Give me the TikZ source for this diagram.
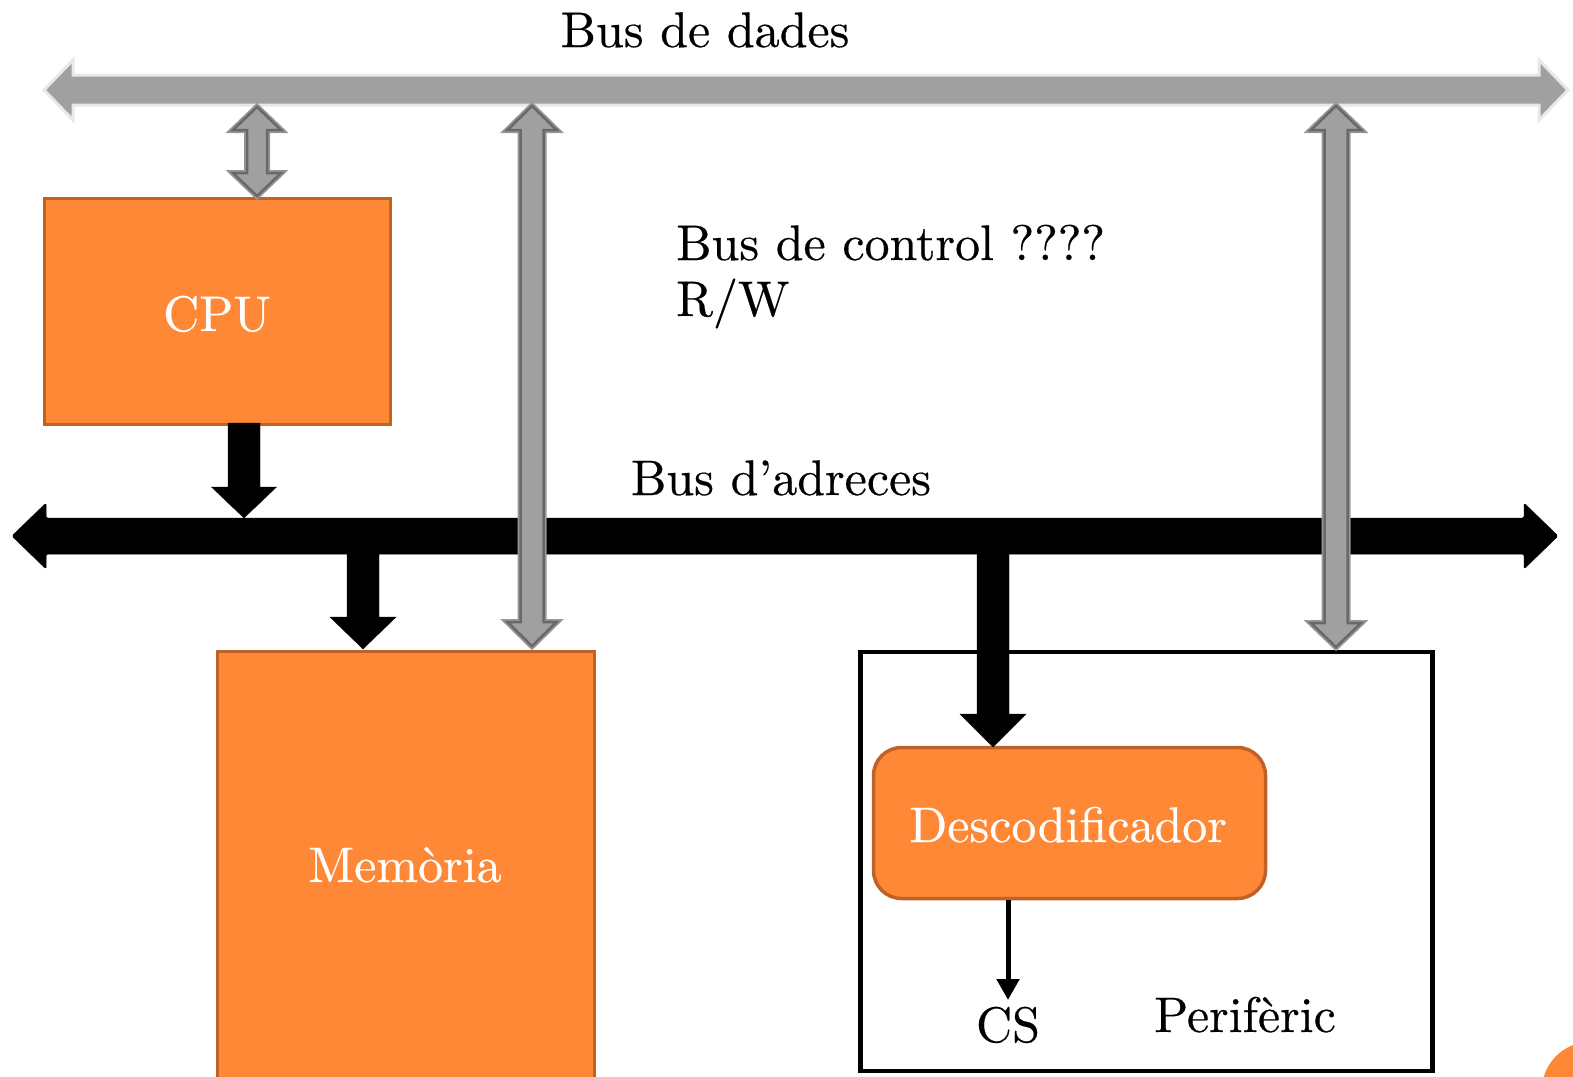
\documentclass[tikz,border=0pt]{standalone}
\usepackage{fontspec}
\setmainfont{lmroman10-regular.otf}[FakeBold=0.4]
\usetikzlibrary{calc,arrows.meta}

\definecolor{boxorange}{RGB}{254,136,54}
\definecolor{boxedge}{RGB}{192,98,40}
\definecolor{busgray}{RGB}{160,160,160}
\definecolor{busedge}{RGB}{232,232,232}
\definecolor{linkdark}{RGB}{105,105,105}
\definecolor{linklight}{RGB}{150,150,150}

% horizontal double block arrow: style, left tip, right tip, half shaft, half head, head length
\newcommand\hdblock[6]{%
  \draw[#1] (#2) -- ($(#2)+(#6,-#5)$) -- ($(#2)+(#6,-#4)$) -- ($(#3)+(-#6,-#4)$)
    -- ($(#3)+(-#6,-#5)$) -- (#3) -- ($(#3)+(-#6,#5)$) -- ($(#3)+(-#6,#4)$)
    -- ($(#2)+(#6,#4)$) -- ($(#2)+(#6,#5)$) -- cycle;}
% vertical double block arrow: style, top tip, bottom tip, half shaft, half head, head length
\newcommand\vdblock[6]{%
  \draw[#1] (#2) -- ($(#2)+(#5,#6)$) -- ($(#2)+(#4,#6)$) -- ($(#3)+(#4,-#6)$)
    -- ($(#3)+(#5,-#6)$) -- (#3) -- ($(#3)+(-#5,-#6)$) -- ($(#3)+(-#4,-#6)$)
    -- ($(#2)+(-#4,#6)$) -- ($(#2)+(-#5,#6)$) -- cycle;}
% downward single block arrow: style, start, tip, half shaft, half head, head length
\newcommand\vsblock[6]{%
  \draw[#1] ($(#2)+(-#4,0)$) -- ($(#3)+(-#4,-#6)$) -- ($(#3)+(-#5,-#6)$) -- (#3)
    -- ($(#3)+(#5,-#6)$) -- ($(#3)+(#4,-#6)$) -- ($(#2)+(#4,0)$) -- cycle;}

\tikzset{
  txt/.style={font=\fontsize{50}{56}\selectfont, inner sep=0pt, anchor=base},
  orangebox/.style={draw=boxedge, fill=boxorange, line width=3.5pt, inner sep=0pt,
    text=white, font=\fontsize{50}{56}\selectfont},
  databus/.style={fill=busgray, draw=busedge, line width=3pt},
  datalink/.style={fill=busgray, draw=linkdark, line width=2.5pt,
    preaction={draw=linklight, line width=6pt}},
  addrbus/.style={fill=black, draw=black, line width=0.5pt, rounded corners=1.5pt},
}

\begin{document}
\begin{tikzpicture}[x=1pt,y=-1pt]
\useasboundingbox (0,0) rectangle (1573,1076);

% boxes
\node[orangebox, minimum width=346, minimum height=226] (cpu) at (217.5,311.5) {};
\node[orangebox, minimum width=377, minimum height=434] (mem) at (406,868.5) {};
\node[draw=black, line width=4.5pt, minimum width=572, minimum height=419, inner sep=0pt]
  (perif) at (1146.5,861.5) {};
\node[orangebox, rounded corners=28pt, minimum width=392, minimum height=151]
  (desc) at (1069.5,823) {};

% bus end points and link anchors
\coordinate (dbL) at (44,90);
\coordinate (dbR) at (1568,90);
\coordinate (abL) at (12,536);
\coordinate (abR) at (1558,536);
\coordinate (cpuD) at (257,196);
\coordinate (cpuDtop) at (257,107);
\coordinate (memD) at (532,646);
\coordinate (memDtop) at (532,106);
\coordinate (perD) at (1336,647);
\coordinate (perDtop) at (1336,106);
\coordinate (cpuA) at (244,423);
\coordinate (cpuAtip) at (244,518);
\coordinate (memA) at (363,550);
\coordinate (memAtip) at (363,649);
\coordinate (descA) at (993,550);
\coordinate (descAtip) at (993,747);
\coordinate (csTip) at (1008,1000);

% data bus
\hdblock{databus}{dbL}{dbR}{15}{30}{29}
\vdblock{datalink}{cpuDtop}{cpuD}{10}{24}{23}

% address bus and its links
\hdblock{addrbus}{abL}{abR}{18}{33}{34}
\vsblock{fill=black}{cpuA}{cpuAtip}{16}{32.5}{31}
\vsblock{fill=black}{memA}{memAtip}{16}{33}{32}
\vsblock{fill=black}{descA}{descAtip}{16}{33}{33}

% control bus links
\vdblock{datalink}{memDtop}{memD}{11.5}{24.5}{24}
\vdblock{datalink}{perDtop}{perD}{11.5}{25}{24}

% chip select
\draw[line width=5pt, -{Triangle[length=21pt,width=22pt]}] (desc.south -| csTip) -- (csTip);

% labels
\node[txt] (lcpu) at (217,331) {\color{white}CPU};
\node[txt] (lmem) at (405,882) {\color{white}Memòria};
\node[txt] (ldesc) at (1068,842) {\color{white}Descodificador};
\node[txt] (ldades) at (705,47) {Bus de dades};
\node[txt] (ladr) at (781,495) {Bus d’adreces};
\node[txt, anchor=base west] (lctrl) at (676,260) {Bus de control ????};
\node[txt, anchor=base west] (lrw) at (676,316) {R/W};
\node[txt] (lcs) at (1008,1042) {CS};
\node[txt] (lper) at (1245,1032) {Perifèric};

% corner mark
\fill[boxorange] (1590,1090) circle[radius=48];
\end{tikzpicture}
\end{document}
